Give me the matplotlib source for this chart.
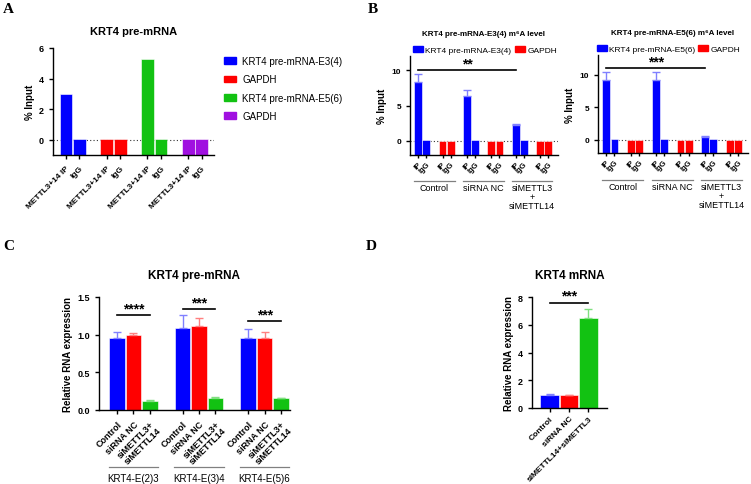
import matplotlib

matplotlib.use("Agg")
import matplotlib.pyplot as plt
import numpy as np
from matplotlib.patches import Patch
from matplotlib.transforms import blended_transform_factory

plt.rcParams["font.family"] = ["Liberation Sans", "DejaVu Sans"]
plt.rcParams["axes.linewidth"] = 1.0
plt.rcParams["xtick.major.width"] = 1.0
plt.rcParams["ytick.major.width"] = 1.0
plt.rcParams["xtick.major.size"] = 3
plt.rcParams["ytick.major.size"] = 3

BLUE, RED, GREEN, PURPLE = "#0000FF", "#FF0000", "#12C212", "#A010E0"
LBLUE, LRED, LGREEN = "#8080FF", "#FF8080", "#80E080"

# ---- data -------------------------------------------------------------
a_series = ["KRT4 pre-mRNA-E3(4)", "GAPDH", "KRT4 pre-mRNA-E5(6)", "GAPDH"]
a_ticks = ["METTL3+14 IP", "IgG"]
a_ip = [3.0, 0.02, 5.3, 0.02]
a_igg = [0.02, 0.02, 0.02, 0.02]

b_groups = ["Control", "siRNA NC", "siMETTL3\n+\nsiMETTL14"]
b_ticks = ["IP", "IgG"]
b1_ip = [8.3, 6.4, 2.2]
b1_ip_err = [1.1, 0.85, 0.25]
b1_igg = [0.1, 0.1, 0.1]
b1_gapdh = [0.02, 0.02, 0.02]
b2_ip = [9.1, 9.1, 0.45]
b2_ip_err = [1.35, 1.3, 0.12]
b2_igg = [0.1, 0.1, 0.1]
b2_gapdh = [0.02, 0.02, 0.02]

c_groups = ["KRT4-E(2)3", "KRT4-E(3)4", "KRT4-E(5)6"]
c_ticks = ["Control", "siRNA NC", "siMETTL3+\nsiMETTL14"]
c_control = [0.96, 1.09, 0.96]
c_control_err = [0.07, 0.17, 0.11]
c_sinc = [0.99, 1.11, 0.95]
c_sinc_err = [0.03, 0.11, 0.09]
c_si = [0.12, 0.16, 0.155]
c_si_err = [0.015, 0.006, 0.01]
c_sig = ["****", "***", "***"]
c_sig_h = [1.26, 1.34, 1.18]

d_ticks = ["Control", "siRNA NC", "siMETTL14+siMETTL3"]
d_vals = [0.92, 0.95, 6.5]
d_err = [0.1, 0.02, 0.65]

W, H = 751, 485
fig = plt.figure(figsize=(W / 100, H / 100), dpi=100)


def add_ax(l, t, r, b):
    ax = fig.add_axes([l / W, 1 - b / H, (r - l) / W, (b - t) / H])
    ax.spines["top"].set_visible(False)
    ax.spines["right"].set_visible(False)
    return ax


def up_err(ax, x, y, e, color):
    ax.errorbar(x, y, yerr=[np.zeros(len(e)), e], fmt="none", ecolor=color,
                elinewidth=1.0, capsize=3, capthick=1.0, zorder=2)


def sig(ax, x0, x1, y, txt, dy, fs=10):
    ax.plot([x0, x1], [y, y], color="black", lw=1.2, clip_on=False)
    ax.annotate(txt, xy=((x0 + x1) / 2, y), xytext=(0, dy),
                textcoords="offset points", ha="center", va="center",
                fontsize=fs, fontweight="bold", annotation_clip=False)


def fy(ypx):
    return 1 - ypx / H


def bold_yticks(ax, size):
    ax.tick_params(axis="y", labelsize=size)
    for lab in ax.get_yticklabels():
        lab.set_fontweight("bold")


# ---- panel A ----------------------------------------------------------
axA = add_ax(53, 49, 214, 156)
ybot = -1
colors_a = [BLUE, RED, GREEN, PURPLE]
for g in range(4):
    xs = [3 * g, 3 * g + 1]
    vals = [a_ip[g], a_igg[g]]
    axA.bar(xs, np.array(vals) - ybot, bottom=ybot, width=0.93,
            color=colors_a[g], edgecolor="white", linewidth=0.4, zorder=1)
axA.axhline(0, color="#333333", ls=(0, (1, 2)), lw=0.8, zorder=0)
axA.set_xlim(-0.95, 10.9)
axA.set_ylim(-1, 6)
axA.set_yticks([0, 2, 4, 6])
axA.set_xticks([3 * g + k for g in range(4) for k in range(2)])
axA.set_xticklabels(a_ticks * 4, rotation=45, ha="right",
                    rotation_mode="anchor", fontsize=6, fontweight="bold")
bold_yticks(axA, 6.5)
axA.set_ylabel("% Input", fontsize=7, fontweight="bold", labelpad=3)
axA.set_title("KRT4 pre-mRNA", fontsize=8, fontweight="bold", pad=10)
handles = [Patch(color=c) for c in colors_a]
axA.legend(handles, a_series, loc="upper left", bbox_to_anchor=(1.03, 0.97),
           frameon=False, fontsize=7, handlelength=1.3, handleheight=0.7,
           labelspacing=0.85, handletextpad=0.6, borderpad=0)


# ---- panel B ----------------------------------------------------------
def panel_b(box, ip, ip_err, igg, gapdh, ymax, series, title, sig_txt,
            sig_h, leg_x, line_y, text_y):
    ax = add_ax(*box)
    ybot = -2
    for g in range(3):
        base = 6 * g
        ax.bar([base, base + 1], np.array([ip[g], igg[g]]) - ybot,
               bottom=ybot, width=0.95, color=BLUE, edgecolor="white",
               linewidth=0.4, zorder=1)
        ax.bar([base + 3, base + 4], np.array([gapdh[g], gapdh[g]]) - ybot,
               bottom=ybot, width=0.95, color=RED, edgecolor="white",
               linewidth=0.4, zorder=1)
    up_err(ax, [0, 6, 12], ip, ip_err, LBLUE)
    ax.axhline(0, color="#333333", ls=(0, (1, 2)), lw=0.8, zorder=0)
    ax.set_xlim(-1, 17.2)
    ax.set_ylim(-2, ymax)
    ax.set_yticks([0, 5, 10])
    ax.set_xticks([6 * g + k for g in range(3) for k in (0, 1, 3, 4)])
    ax.set_xticklabels(b_ticks * 6, rotation=45, ha="right",
                       rotation_mode="anchor", fontsize=5.5,
                       fontweight="bold")
    ax.tick_params(axis="x", length=2, pad=1.5)
    bold_yticks(ax, 6)
    ax.set_ylabel("% Input", fontsize=7, fontweight="bold", labelpad=3)
    ax.set_title(title, fontsize=5.8, fontweight="bold", pad=15)
    ax.legend([Patch(color=BLUE), Patch(color=RED)], series,
              loc="center left", bbox_to_anchor=(leg_x, 1.06), ncol=2,
              frameon=False, fontsize=6.0, handlelength=1.2,
              handleheight=0.8, handletextpad=0.3, columnspacing=0.4,
              borderpad=0, borderaxespad=0)
    sig(ax, 0, 12, sig_h, sig_txt, 5)
    tr = blended_transform_factory(ax.transData, fig.transFigure)
    for g, name in enumerate(b_groups):
        ax.plot([6 * g - 0.5, 6 * g + 4.5], [fy(line_y)] * 2, color="#808080",
                lw=0.9, transform=tr, clip_on=False)
        ax.text(6 * g + 2, fy(text_y), name, ha="center", va="top",
                fontsize=6.5, linespacing=1.0, transform=tr)
    return ax


panel_b((410, 57, 558, 156), b1_ip, b1_ip_err, b1_igg, b1_gapdh, 12,
        ["KRT4 pre-mRNA-E3(4)", "GAPDH"],
        "KRT4 pre-mRNA-E3(4) m\u2076A level", "**", 10, 0.02, 182, 184)
panel_b((598, 56, 748, 154), b2_ip, b2_ip_err, b2_igg, b2_gapdh, 13,
        ["KRT4 pre-mRNA-E5(6)", "GAPDH"],
        "KRT4 pre-mRNA-E5(6) m\u2076A level", "***", 11, -0.01, 181, 183)

# ---- panel C ----------------------------------------------------------
axC = add_ax(99, 298, 290, 411)
for g in range(3):
    xs = np.array([4 * g, 4 * g + 1, 4 * g + 2])
    vals = [c_control[g], c_sinc[g], c_si[g]]
    errs = [c_control_err[g], c_sinc_err[g], c_si_err[g]]
    for x, v, e, c, lc in zip(xs, vals, errs, [BLUE, RED, GREEN],
                              [LBLUE, LRED, LGREEN]):
        axC.bar(x, v, width=0.95, color=c, edgecolor="white", linewidth=0.4,
                zorder=1)
        up_err(axC, [x], [v], [e], lc)
    sig(axC, 4 * g, 4 * g + 2, c_sig_h[g], c_sig[g], 5)
axC.set_xlim(-1.1, 10.55)
axC.set_ylim(0, 1.5)
axC.set_yticks([0, 0.5, 1.0, 1.5])
axC.set_xticks([4 * g + k for g in range(3) for k in range(3)])
axC.set_xticklabels(c_ticks * 3, rotation=45, ha="right",
                    rotation_mode="anchor", fontsize=6.5, fontweight="bold",
                    linespacing=0.95)
bold_yticks(axC, 6.5)
axC.set_ylabel("Relative RNA expression", fontsize=7, fontweight="bold",
               labelpad=3)
axC.set_title("KRT4 pre-mRNA", fontsize=8.5, fontweight="bold", pad=14)
trC = blended_transform_factory(axC.transData, fig.transFigure)
for g, name in enumerate(c_groups):
    axC.plot([4 * g - 0.5, 4 * g + 2.5], [fy(468)] * 2, color="#808080",
             lw=0.9, transform=trC, clip_on=False)
    axC.text(4 * g + 1, fy(474), name, ha="center", va="top", fontsize=7,
             transform=trC)

# ---- panel D ----------------------------------------------------------
axD = add_ax(532, 298, 607, 409)
for x, v, e, c, lc in zip(range(3), d_vals, d_err, [BLUE, RED, GREEN],
                          [LBLUE, LRED, LGREEN]):
    axD.bar(x, v, width=0.95, color=c, edgecolor="white", linewidth=0.4,
            zorder=1)
    up_err(axD, [x], [v], [e], lc)
sig(axD, 0, 2, 7.6, "***", 5)
axD.set_xlim(-0.9, 2.95)
axD.set_ylim(0, 8)
axD.set_yticks([0, 2, 4, 6, 8])
axD.set_xticks(range(3))
axD.set_xticklabels(d_ticks, rotation=45, ha="right", rotation_mode="anchor",
                    fontsize=6.0, fontweight="bold")
axD.tick_params(axis="x", pad=2)
bold_yticks(axD, 6.5)
axD.set_ylabel("Relative RNA expression", fontsize=7, fontweight="bold",
               labelpad=3)
axD.set_title("KRT4 mRNA", fontsize=8.5, fontweight="bold", pad=14)

# ---- panel letters ----------------------------------------------------
for lt, x, y in [("A", 3, 3), ("B", 368, 3), ("C", 3, 240), ("D", 366, 240)]:
    fig.text(x / W, fy(y), lt, ha="left", va="top", fontsize=11,
             fontweight="bold", family="Liberation Serif")

fig.savefig("out.png", dpi=100)
